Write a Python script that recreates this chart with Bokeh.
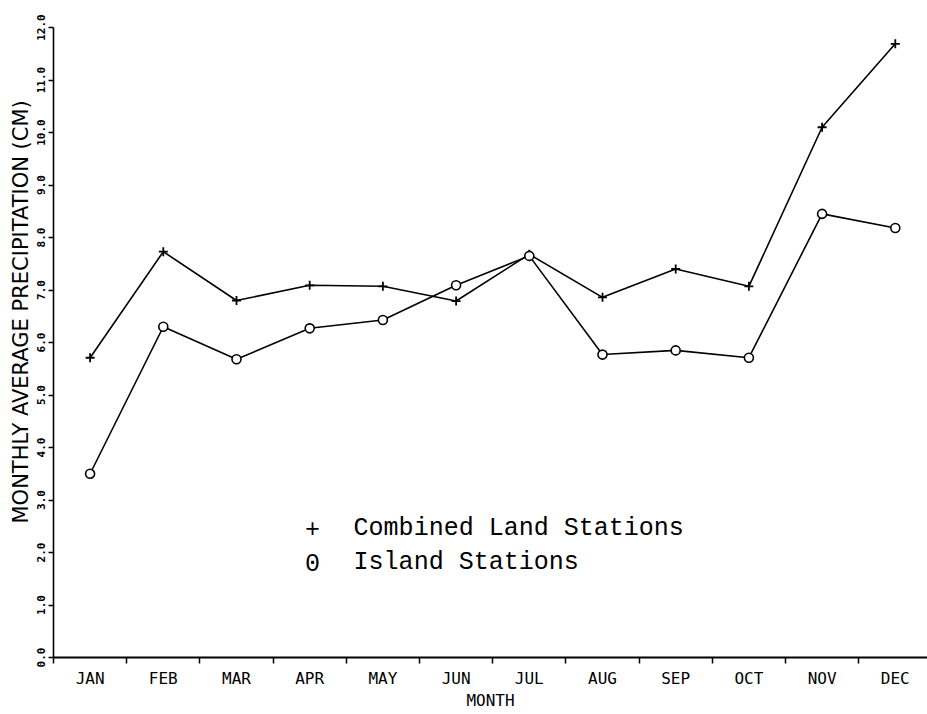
from bokeh.plotting import figure
from bokeh.models import (Range1d, FixedTicker, CustomJSTickFormatter,
                          NumeralTickFormatter, Label, Title, ColumnDataSource)
from bokeh.embed import file_html
from bokeh.resources import INLINE

months = ["JAN", "FEB", "MAR", "APR", "MAY", "JUN",
          "JUL", "AUG", "SEP", "OCT", "NOV", "DEC"]
land = [5.71, 7.73, 6.80, 7.09, 7.07, 6.79, 7.68, 6.86, 7.40, 7.07, 10.10, 11.69]
island = [3.50, 6.30, 5.68, 6.27, 6.43, 7.09, 7.65, 5.77, 5.85, 5.71, 8.45, 8.18]
y_ticks = [0, 1, 2, 3, 4, 5, 6, 7, 8, 9, 10, 11, 12]
legend_symbols = ["+", "0"]
legend_texts = ["Combined Land Stations", "Island Stations"]
y_title = "MONTHLY AVERAGE PRECIPITATION (CM)"
x_title = "MONTH"

xpos = [i + 0.5 for i in range(len(months))]
src = ColumnDataSource(dict(x=xpos, land=land, island=island))

AX_FONT = "DejaVu Sans Mono"

p = figure(width=927, height=714, output_backend="svg", toolbar_location=None,
           x_range=Range1d(0, 11.94), y_range=Range1d(0, 12),
           min_border_left=53, min_border_right=0, min_border_top=27,
           min_border_bottom=57)
p.outline_line_color = None
p.xgrid.visible = False
p.ygrid.visible = False
p.background_fill_color = "white"
p.border_fill_color = "white"

p.line("x", "land", source=src, line_color="black", line_width=1.6)
p.scatter("x", "land", source=src, marker="cross", size=9,
          line_color="black", line_width=1.8)
p.line("x", "island", source=src, line_color="black", line_width=1.6)
p.scatter("x", "island", source=src, marker="circle", size=9,
          line_color="black", fill_color="white", line_width=1.6)

# x axis
xa = p.xaxis[0]
xa.ticker = FixedTicker(ticks=xpos, minor_ticks=list(range(len(months) + 1)))
xa.formatter = CustomJSTickFormatter(args=dict(months=months),
                                     code="return months[Math.floor(tick)];")
xa.major_tick_out = 0
xa.major_tick_in = 0
xa.minor_tick_out = 6
xa.minor_tick_in = 0
xa.minor_tick_line_color = "black"
xa.minor_tick_line_width = 1.5
xa.axis_line_color = "black"
xa.axis_line_width = 2.2
xa.major_label_text_font = AX_FONT
xa.major_label_text_font_size = "16px"
xa.major_label_text_color = "black"
xa.major_label_standoff = 5
xa.axis_label = x_title
xa.axis_label_text_font = AX_FONT
xa.axis_label_text_font_size = "16px"
xa.axis_label_text_font_style = "normal"
xa.axis_label_text_color = "black"
xa.axis_label_standoff = 0

# y axis
ya = p.yaxis[0]
ya.ticker = FixedTicker(ticks=y_ticks, minor_ticks=[])
ya.formatter = NumeralTickFormatter(format="0.0")
ya.major_label_orientation = "vertical"
ya.major_tick_out = 5
ya.major_tick_in = 0
ya.major_tick_line_width = 1.5
ya.major_tick_line_color = "black"
ya.axis_line_color = "black"
ya.axis_line_width = 1.6
ya.major_label_text_font = AX_FONT
ya.major_label_text_font_size = "11px"
ya.major_label_text_font_style = "bold"
ya.major_label_text_color = "black"
ya.major_label_standoff = 4

# y title in the left panel, shifted a little above the frame centre
p.add_layout(Title(text=y_title, align="left", offset=134, standoff=2,
                   text_font="DejaVu Sans", text_font_size="21px",
                   text_font_style="normal", text_color="black"), "left")

# legend text block
for sym, txt, yy in zip(legend_symbols, legend_texts, (2.46, 1.81)):
    p.add_layout(Label(x=3.54, y=yy, text=sym, text_font="Liberation Mono",
                       text_font_size="25px", text_color="black",
                       text_baseline="middle", text_align="center"))
    p.add_layout(Label(x=4.10, y=yy, text=txt, text_font="Liberation Mono",
                       text_font_size="25px", text_color="black",
                       text_baseline="middle", text_align="left"))

open("out.html", "w").write(file_html(p, INLINE))
